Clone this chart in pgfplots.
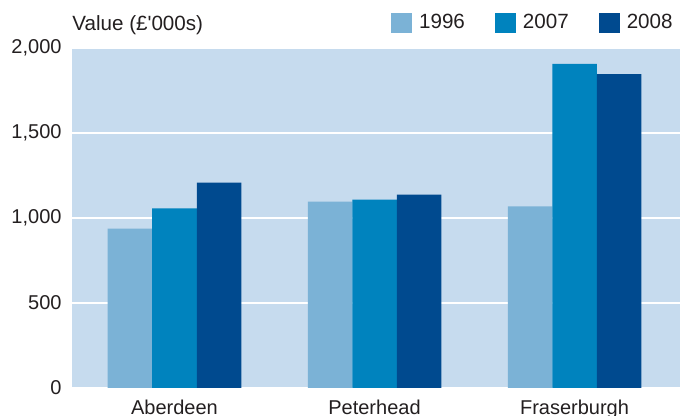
\documentclass[border=0pt]{standalone}
\usepackage{pgfplots}
\pgfplotsset{compat=1.18}
\usepackage{fontspec}
\setmainfont{Liberation Sans}[Ligatures=TeXOff]

\definecolor{bgblue}{RGB}{198,219,238}
\definecolor{c1996}{RGB}{123,178,214}
\definecolor{c2007}{RGB}{0,131,190}
\definecolor{c2008}{RGB}{0,74,143}
\definecolor{txt}{RGB}{35,31,32}

\begin{document}
\begin{tikzpicture}
\begin{axis}[
    scale only axis,
    width=304pt, height=170pt,
    clip=false,
    ybar=0pt, bar width=22.25pt,
    xmin=-0.5125, xmax=2.5275,
    ymin=0, ymax=2000,
    xtick={0,1,2},
    xticklabels={Aberdeen,Peterhead,Fraserburgh},
    ytick={0,500,1000,1500,2000},
    /pgf/number format/assume math mode=true,
    /pgf/number format/1000 sep={,},
    scaled y ticks=false,
    major tick length=0pt,
    axis line style={draw=none},
    axis background/.style={fill=bgblue},
    ymajorgrids,
    grid style={white, line width=1pt},
    tick label style={font=\fontsize{10}{12}\selectfont, text=txt},
    yticklabel style={xshift=-1.7pt},
    xticklabel style={yshift=-2.7pt},
    legend columns=3,
    legend style={draw=none, fill=none, at={(rel axis cs:1,1)}, anchor=east,
        yshift=12.5pt, xshift=-1.5pt, inner sep=0pt,
        font=\fontsize{10.3}{12}\selectfont, text=txt,
        /tikz/every odd column/.append style={column sep=1.5pt},
        /tikz/every even column/.append style={column sep=13pt}},
    legend cell align=left,
    legend image code/.code={\fill[#1] (0pt,-5pt) rectangle (10.5pt,5pt);},
]
\addplot[fill=c1996, draw=none] coordinates {(0,938) (1,1097) (2,1069)};
\addplot[fill=c2007, draw=none] coordinates {(0,1056) (1,1108) (2,1906)};
\addplot[fill=c2008, draw=none] coordinates {(0,1208) (1,1138) (2,1847)};
\legend{1996,2007,2008}
\node[anchor=west, inner sep=0pt, text=txt, font=\fontsize{10.3}{12}\selectfont]
    at (rel axis cs:0,1) [yshift=11.5pt] {Value (£'000s)};
\end{axis}
\pgfresetboundingbox
\useasboundingbox (-36pt,-14pt) rectangle (304pt,194pt);
\end{tikzpicture}
\end{document}
